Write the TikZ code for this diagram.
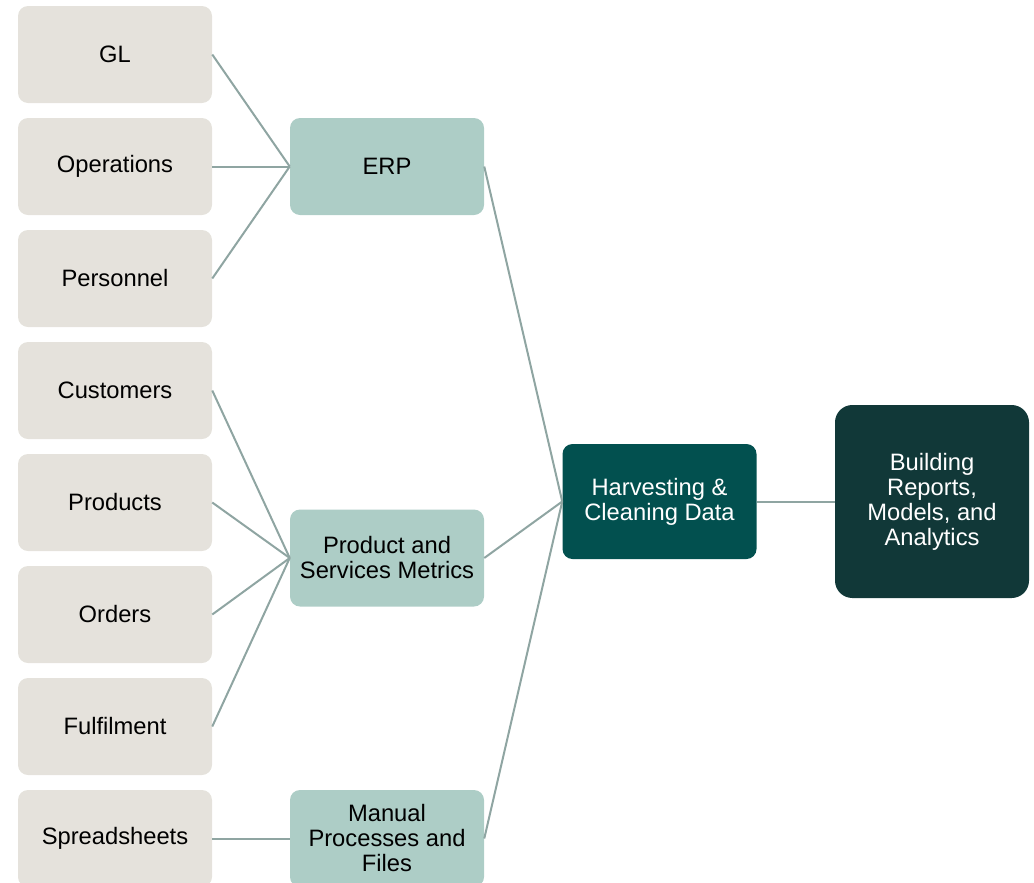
\documentclass[tikz,border=0pt]{standalone}
\usepackage{fontspec}
\setmainfont{Liberation Sans}
\usetikzlibrary{positioning}

\definecolor{srcgray}{HTML}{E5E2DC}
\definecolor{midgreen}{HTML}{ADCDC6}
\definecolor{harvgreen}{HTML}{02504F}
\definecolor{darkgreen}{HTML}{113838}
\definecolor{linkgray}{HTML}{8FA5A2}

\begin{document}
\begin{tikzpicture}[
    x=0.75pt, y=-0.75pt,
    font=\fontsize{17.8}{18.75}\selectfont,
    box/.style  = {rounded corners=7.5pt, align=center, inner sep=2pt,
                   minimum width=145.5pt},
    src/.style  = {box, fill=srcgray, minimum height=72.75pt},
    mid/.style  = {box, fill=midgreen, minimum height=72.75pt},
    link/.style = {draw=linkgray, line width=1.5pt},
  ]

	\useasboundingbox (0,0) rectangle (1034,882);

	% Quellen links
	\node (GL)     at (115,54.5)  [src]{GL};
	\node (Ops)    at (115,166.5) [src]{Operations};
	\node (Pers)   at (115,278.5) [src]{Personnel};
	\node (Cust)   at (115,390.5) [src]{Customers};
	\node (Prod)   at (115,502.5) [src]{Products};
	\node (Ord)    at (115,614.5) [src]{Orders};
	\node (Ful)    at (115,726.5) [src]{Fulfilment};
	\node (Sheets) at (115,838.5) [src]{Spreadsheets};

	% Zwischenstufe
	\node (ERP) at (387,166.5) [mid]{ERP};
	\node (PSM) at (387,558)   [mid]{Product and\\Services Metrics};
	\node (MPF) at (387,838.5) [mid]{Manual\\Processes and\\Files};

	% Aufbereitung und Auswertung
	\node (HCD) at (659.5,501.5) [box, fill=harvgreen, text=white,
	      minimum height=86.25pt]{Harvesting \&\\Cleaning Data};
	\node (BRM) at (932,501.5) [box, fill=darkgreen, text=white,
	      rounded corners=13pt, minimum height=144.75pt]{Building\\Reports,\\Models, and\\Analytics};

	% Verbindungen
	\foreach \s in {GL,Ops,Pers}
		\draw[link] (\s.east) -- (ERP.west);
	\foreach \s in {Cust,Prod,Ord,Ful}
		\draw[link] (\s.east) -- (PSM.west);
	\draw[link] (Sheets.east) -- (MPF.west);

	\foreach \s in {ERP,PSM,MPF}
		\draw[link] (\s.east) -- (HCD.west);
	\draw[link] (HCD.east) -- (BRM.west);

\end{tikzpicture}
\end{document}
